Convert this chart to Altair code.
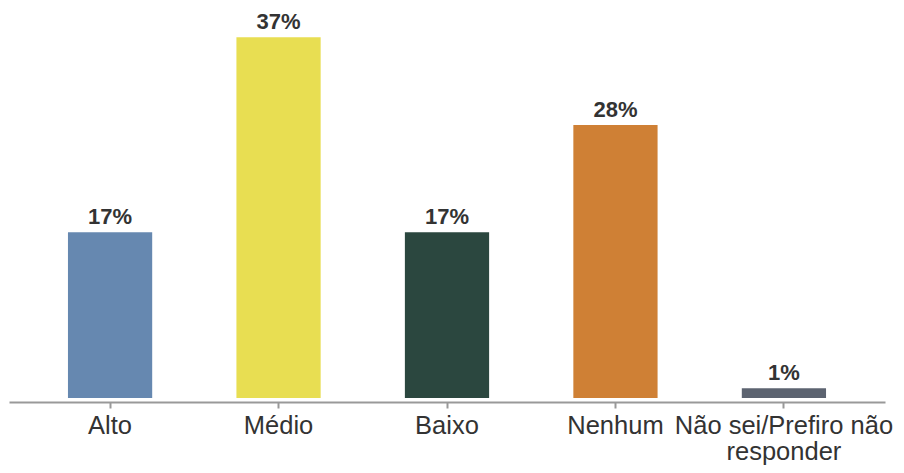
import altair as alt
import pandas as pd

categories = ["Alto", "Médio", "Baixo", "Nenhum", "Não sei/Prefiro não responder"]
values = [17, 37, 17, 28, 1]
labels = ["17%", "37%", "17%", "28%", "1%"]
colors = ["#6688b0", "#e8de52", "#2b473f", "#cf8035", "#5c6370"]

df = pd.DataFrame({"cat": categories, "val": values, "lab": labels})

x = alt.X(
    "cat:N",
    sort=categories,
    title=None,
    scale=alt.Scale(paddingInner=0.5, paddingOuter=0.35),
    axis=alt.Axis(
        labelAngle=0,
        labelFontSize=25.5,
        labelFont="Liberation Sans",
        labelColor="#333333",
        labelOverlap=False,
        labelLimit=0,
        labelPadding=5,
        labelLineHeight=26,
        labelExpr="datum.value == 'Não sei/Prefiro não responder' ? ['Não sei/Prefiro não', 'responder'] : datum.value",
        domainColor="#999999",
        domainWidth=2,
        tickColor="#999999",
        tickWidth=2,
        tickSize=6,
        offset=4,
        grid=False,
    ),
)
y = alt.Y("val:Q", scale=alt.Scale(domain=[0, 40]), axis=None)

bars = alt.Chart(df).mark_bar().encode(
    x=x,
    y=y,
    color=alt.Color("cat:N", scale=alt.Scale(domain=categories, range=colors), legend=None),
)
text = alt.Chart(df).mark_text(
    font="Liberation Sans",
    fontWeight="bold",
    fontSize=22,
    color="#333333",
    baseline="alphabetic",
    dy=-8,
).encode(x=alt.X("cat:N", sort=categories), y=y, text="lab:N")

chart = (
    alt.layer(bars, text)
    .properties(
        width=876,
        height=390,
        background="white",
        autosize=alt.AutoSizeParams(type="none"),
        padding={"left": 1, "top": 0, "right": 10, "bottom": 72},
    )
    .configure_view(strokeWidth=0)
)

chart.save("out.html", embed_options={"renderer": "svg", "actions": False})
